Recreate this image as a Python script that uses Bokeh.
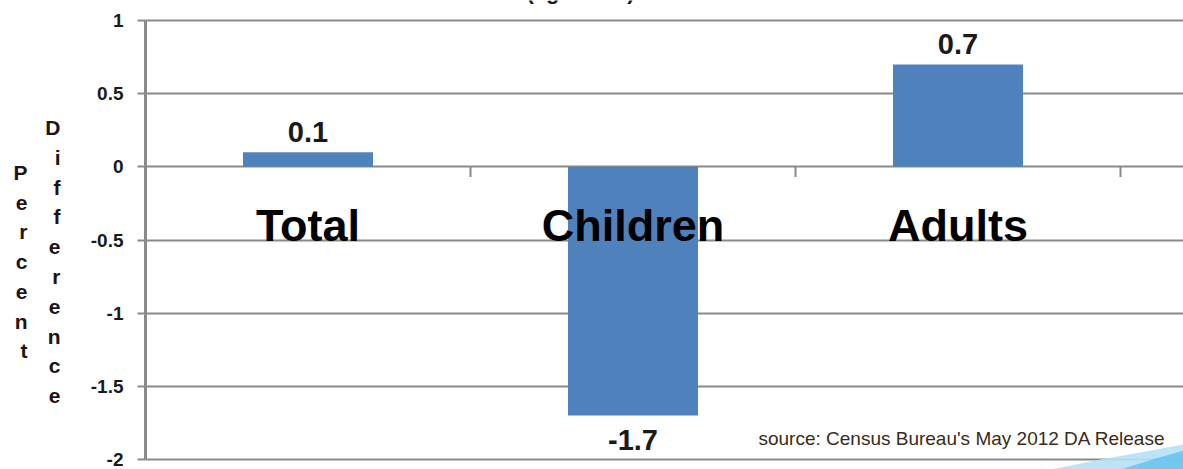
from bokeh.plotting import figure
from bokeh.models import (ColumnDataSource, FixedTicker, Range1d, PolyAnnotation, LinearAxis)
from bokeh.core.properties import value
from bokeh.embed import file_html
from bokeh.resources import INLINE

categories = ["Total", "Children", "Adults"]
values = [0.1, -1.7, 0.7]
value_labels = ["0.1", "-1.7", "0.7"]
y_ticks = [-2, -1.5, -1, -0.5, 0, 0.5, 1]
y_tick_labels = ["-2", "-1.5", "-1", "-0.5", "0", "0.5", "1"]
title_text = "(ages 16+)"
y_label_1 = "Percent"
y_label_2 = "Difference"
source_note = "source: Census Bureau's May 2012 DA Release"

FONT = "Liberation Sans"
BAR = "#4F81BD"
GRID = "#8a8a8a"
TXT = "#1a1a1a"

W, H = 1183, 469
L = 145
# pixel geometry of the value scale (y=1 at px 20, y=-2 at px 459; x 0..3 over px 145..1120)
Y_TOP_PX, Y_BOT_PX = 20, 459
X_RIGHT_PX = 1120
ypp = (Y_BOT_PX - Y_TOP_PX) / 3.0
xpp = (X_RIGHT_PX - L) / 3.0

def px_to_x(px):
    return (px - L) / xpp
def py_to_y(py):
    return 1.0 - (py - Y_TOP_PX) / ypp

p = figure(width=W, height=H, output_backend="svg", toolbar_location=None,
           x_range=Range1d(0, px_to_x(W)), y_range=Range1d(py_to_y(H), py_to_y(0)),
           min_border_left=L, min_border_right=0, min_border_top=0, min_border_bottom=0)
p.outline_line_color = None
p.background_fill_color = "white"
p.border_fill_color = "white"

xs = [i + 0.5 for i in range(len(categories))]
cat_y = [-0.40] * len(categories)
lab_y = [v + 0.14 if v >= 0 else v - 0.17 for v in values]
src = ColumnDataSource(dict(x=xs, top=values, cat=categories, lab=value_labels,
                            cat_y=cat_y, lab_y=lab_y))

p.vbar(x="x", top="top", bottom=0, width=0.4, source=src, fill_color=BAR, line_color=None)

# axes
p.xaxis.visible = False
p.xgrid.visible = False
yax = p.yaxis[0]
yax.ticker = FixedTicker(ticks=y_ticks)
yax.major_label_overrides = {t: s for t, s in zip(y_ticks, y_tick_labels)}
yax.bounds = (-2, 1)
yax.axis_line_color = GRID
yax.axis_line_width = 3
yax.major_tick_line_color = GRID
yax.major_tick_line_width = 2
yax.major_tick_out = 8
yax.major_tick_in = 0
yax.minor_tick_line_color = None
yax.major_label_text_font = FONT
yax.major_label_text_font_style = "bold"
yax.major_label_text_font_size = "19px"
yax.major_label_text_color = TXT
yax.major_label_standoff = 14
p.ygrid.ticker = FixedTicker(ticks=y_ticks)
p.ygrid.grid_line_color = GRID
p.ygrid.grid_line_width = 2
p.ygrid.bounds = (0, 3)

# stacked-letter axis titles as extra left axes (one letter per tick)
def letter_axis(name, word, first_px, step_px, standoff):
    lo = (H - first_px) / step_px
    hi = (0 - first_px) / step_px
    p.extra_y_ranges[name] = Range1d(lo, hi)
    ax = LinearAxis(y_range_name=name, ticker=FixedTicker(ticks=list(range(len(word)))),
                    major_label_overrides={i: ch for i, ch in enumerate(word)})
    ax.axis_line_color = None
    ax.major_tick_line_color = None
    ax.minor_tick_line_color = None
    ax.major_tick_out = 0
    ax.minor_tick_out = 0
    ax.major_label_standoff = standoff
    ax.major_label_text_font = FONT
    ax.major_label_text_font_style = "bold"
    ax.major_label_text_font_size = "21px"
    ax.major_label_text_color = "#1e1212"
    p.add_layout(ax, "left")

letter_axis("diff", y_label_2, 127, 29.8, 27)
letter_axis("pct", y_label_1, 172, 29.7, 15)

# category boundary ticks on the zero line
bounds = [1, 2, 3]
p.segment(x0=bounds, y0=[0] * 3, x1=bounds, y1=[-0.07] * 3, line_color=GRID, line_width=2)

# category labels
p.text(x="x", y="cat_y", text="cat", source=src, text_font=value(FONT), text_font_style="bold",
       text_font_size="45px", text_align="center", text_baseline="middle", text_color="black")

# value labels
p.text(x="x", y="lab_y", text="lab", source=src, text_font=value(FONT), text_font_style="bold",
       text_font_size="29px", text_align="center", text_baseline="middle", text_color=TXT)

# title (mostly above the top edge, as in the reference)
p.text(x=[px_to_x(580)], y=[py_to_y(3)], text=[title_text], text_font=value(FONT),
       text_font_style="bold", text_font_size="22px", text_align="center",
       text_baseline="bottom", text_color=TXT)

# source note
p.text(x=[px_to_x(1165)], y=[py_to_y(438)], text=[source_note], text_font=value(FONT),
       text_font_size="19px", text_align="right", text_baseline="middle", text_color="#3a2a1a")

# swoosh decoration (bottom-right corner)
sx = [1050, 1100, 1145, 1183, 1183]
sy = [469, 459, 451, 444, 469]
p.add_layout(PolyAnnotation(xs=[px_to_x(v) for v in sx], ys=[py_to_y(v) for v in sy],
                            fill_color="#b5e1f5", fill_alpha=0.9, line_color=None))
sx2 = [1120, 1155, 1183, 1183]
sy2 = [469, 458, 450, 469]
p.add_layout(PolyAnnotation(xs=[px_to_x(v) for v in sx2], ys=[py_to_y(v) for v in sy2],
                            fill_color="#5fc2ee", fill_alpha=0.8, line_color=None))

open("out.html", "w").write(file_html(p, INLINE))
